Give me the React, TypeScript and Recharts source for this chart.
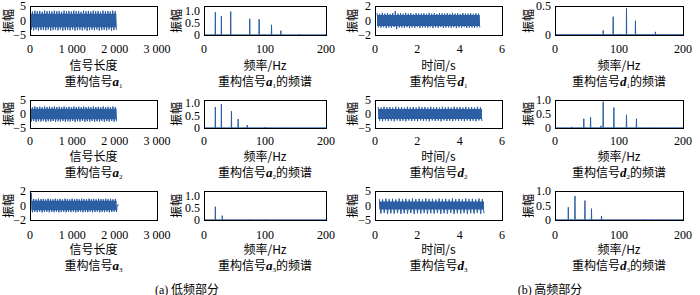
import React from 'react';
import { ComposedChart, Line, Area, XAxis, YAxis } from 'recharts';

// ---------- time-domain signals (tooth tips) ----------
const a1Top = [3.3, 3.1, 3.4, 3.2, 3.3, 3.0, 3.4, 3.2, 3.3, 3.1, 3.4, 3.2, 3.3, 3.0, 3.4, 3.2, 3.3, 3.1, 3.4, 3.2, 3.3, 3.0, 3.4, 3.2, 3.3, 3.1, 3.4, 3.2, 3.3, 3.0, 3.4, 3.2, 3.3, 3.1, 3.4, 3.2];
const a1Bot = [-3.2, -3.4, -3.1, -3.5, -3.3, -3.2, -3.4, -3.1, -3.5, -3.3, -3.2, -3.4, -3.1, -3.5, -3.3, -3.2, -3.4, -3.1, -3.5, -3.3, -3.2, -3.4, -3.1, -3.5, -3.3, -3.2, -3.4, -3.1, -3.5, -3.3, -3.2, -3.4, -3.1, -3.5, -3.3, -3.2];
const a2Top = [2.6, 2.4, 2.7, 2.5, 2.6, 2.4, 2.7, 2.5, 2.6, 2.4, 2.7, 2.5, 2.6, 2.4, 2.7, 2.5, 2.6, 2.4, 2.7, 2.5, 2.6, 2.4, 2.7, 2.5, 2.6, 2.4, 2.7, 2.5, 2.6, 2.4, 2.7, 2.5, 2.6, 2.4, 2.7, 2.5];
const a2Bot = [-2.7, -2.5, -2.8, -2.6, -2.7, -2.5, -2.8, -2.6, -2.7, -2.5, -2.8, -2.6, -2.7, -2.5, -2.8, -2.6, -2.7, -2.5, -2.8, -2.6, -2.7, -2.5, -2.8, -2.6, -2.7, -2.5, -2.8, -2.6, -2.7, -2.5, -2.8, -2.6, -2.7, -2.5, -2.8, -2.6];
const a3Top = [1.75, 0.9, 0.85, 0.95, 0.88, 0.92, 0.85, 0.95, 0.9, 0.86, 0.94, 0.88, 0.92, 0.85, 0.95, 0.9, 0.86, 0.94, 0.88, 0.92, 0.85, 0.95, 0.9, 0.86, 0.94, 0.88, 0.92, 0.85, 0.95, 0.9, 0.86, 0.94, 0.88, 0.92, 0.85, 0.9];
const a3Bot = [-0.95, -0.88, -0.92, -0.85, -0.95, -0.9, -0.86, -0.94, -0.88, -0.92, -0.85, -0.95, -0.9, -0.86, -0.94, -0.88, -0.92, -0.85, -0.95, -0.9, -0.86, -0.94, -0.88, -0.92, -0.85, -0.95, -0.9, -0.86, -0.94, -0.88, -0.92, -0.85, -0.95, -0.9, -0.86, -0.9];
const a3Tail = [[2060, 0.05], [2100, 0.08]];
const d1Top = [1.0, 0.92, 1.05, 0.95, 1.0, 0.9, 1.02, 1.3, 0.95, 1.0, 0.92, 1.05, 0.95, 1.0, 0.9, 1.02, 0.97, 0.95, 1.0, 0.92, 1.05, 0.95, 1.0, 0.9, 1.02, 0.97, 0.95, 1.0, 0.92, 1.05, 0.95, 1.0, 0.9, 1.02, 0.97, 0.95, 1.0, 0.92, 1.0, 0.95];
const d1Bot = [-0.95, -1.0, -0.92, -1.05, -0.95, -1.0, -0.9, -1.2, -0.97, -0.95, -1.0, -0.92, -1.05, -0.95, -1.0, -0.9, -1.02, -0.97, -0.95, -1.0, -0.92, -1.05, -0.95, -1.0, -0.9, -1.02, -0.97, -0.95, -1.0, -0.92, -1.05, -0.95, -1.0, -0.9, -1.02, -0.97, -0.95, -1.0, -0.92, -0.95];
const d2Top = [2.5, 2.3, 2.6, 2.4, 2.5, 2.3, 2.6, 2.4, 2.5, 2.3, 2.6, 2.4, 2.5, 2.3, 2.6, 2.4, 2.5, 2.3, 2.6, 2.4, 2.5, 2.3, 2.6, 2.4, 2.5, 2.3, 2.6, 2.4, 2.5, 2.3, 2.6, 2.4, 2.5, 2.3, 2.6, 2.4];
const d2Bot = [-2.4, -2.6, -2.3, -2.5, -2.4, -2.6, -2.3, -2.5, -2.4, -2.6, -2.3, -2.5, -2.4, -2.6, -2.3, -2.5, -2.4, -2.6, -2.3, -2.5, -2.4, -2.6, -2.3, -2.5, -2.4, -2.6, -2.3, -2.5, -2.4, -2.6, -2.3, -2.5, -2.4, -2.6, -2.3, -2.5];
const d3Top = [2.3, 2.1, 2.4, 2.2, 2.3, 2.1, 2.4, 2.2, 2.3, 2.1, 2.4, 2.2, 2.3, 2.1, 2.4, 2.2, 2.3, 2.1, 2.4, 2.2, 2.3, 2.1, 2.4, 2.2, 2.3, 2.1, 2.4, 2.2, 2.3, 2.1, 2.4, 2.2];
const d3Bot = [-2.8, -2.6, -2.9, -2.7, -2.8, -2.6, -2.9, -2.7, -2.8, -2.6, -2.9, -2.7, -2.8, -2.6, -2.9, -2.7, -2.8, -2.6, -2.9, -2.7, -2.8, -2.6, -2.9, -2.7, -2.8, -2.6, -2.9, -2.7, -2.8, -2.6, -2.9, -2.7];
// dense inner band half-widths (the solid core of each time signal)
const innerA = [2.3, 1.9, 0.65];
const innerD = [0.75, 1.8, 1.4];

// ---------- spectra (peak frequency / amplitude) ----------
const a1F = [18.6, 28.5, 43.8, 60, 75, 90.4, 99, 110.7, 126, 156];
const a1A = [0.94, 0.79, 0.97, 0.02, 0.67, 0.65, 0.03, 0.42, 0.18, 0.04];
const a2F = [18.6, 28.5, 45, 56, 71, 100, 133, 159];
const a2A = [0.82, 0.94, 0.66, 0.35, 0.12, 0.04, 0.02, 0.02];
const a3F = [18.6, 30, 75, 100];
const a3A = [0.55, 0.18, 0.03, 0.03];
const d1F = [75.3, 90.9, 101, 111.7, 125.7, 156.9];
const d1A = [0.08, 0.315, 0.02, 0.46, 0.245, 0.054];
const d2F = [26, 45, 55.6, 71.7, 75.3, 92, 111.7, 127.3, 148];
const d2A = [0.04, 0.33, 0.38, 0.08, 0.94, 0.73, 0.47, 0.33, 0.02];
const d3F = [20.8, 26, 31.2, 46.8, 57, 72.7, 98.7, 137.7, 153, 166];
const d3A = [0.44, 0.03, 0.83, 0.67, 0.39, 0.14, 0.02, 0.03, 0.03, 0.02];

// ---------- axis ticks ----------
const lenTicks = [0, 1000, 2000, 3000];
const timeTicks = [0, 2, 4, 6];
const freqTicks = [0, 100, 200];
const amp5 = [-5, 0, 5];
const amp2 = [-2, 0, 2];
const spec1 = [0, 0.5, 1];
const spec05 = [0, 0.5];

type Pt = { x: number; y: number; band?: [number, number] };

function zigzag(start: number, end: number, top: number[], bot: number[], inner: number, extra: number[][] = []): Pt[] {
  const n = top.length;
  const total = 2 * n - 1;
  const pts: Pt[] = [];
  const band: [number, number] = [-inner, inner];
  for (let i = 0; i < n; i++) {
    pts.push({ x: start + ((end - start) * (2 * i)) / total, y: top[i], band });
    pts.push({ x: start + ((end - start) * (2 * i + 1)) / total, y: bot[i], band });
  }
  extra.forEach(([x, y]) => pts.push({ x, y }));
  return pts;
}

function spectrum(freqs: number[], amps: number[]): Pt[] {
  const floor = 0.006;
  const pts: Pt[] = [{ x: 0, y: floor }, { x: 200, y: floor }];
  freqs.forEach((f, i) => {
    pts.push({ x: f - 0.35, y: floor }, { x: f, y: amps[i] }, { x: f + 0.35, y: floor });
  });
  return pts.sort((a, b) => a.x - b.x);
}

const lenFmt = (v: number) => (v === 0 ? '0' : `${v / 1000} 000`);
const intFmt = (v: number) => (v < 0 ? `−${-v}` : `${v}`);
const specFmt = (v: number) => (v === 0 ? '0' : v.toFixed(1));

const YW = 40, MT = 10, MR = 24, XH = 30;
const BLUE = '#2b5ea3';
const SERIF = '"Liberation Serif", "Times New Roman", serif';
const CJK = '"Noto Sans CJK SC", sans-serif';

interface PanelProps {
  bx: number; by: number; bw: number; bh: number;
  data: Pt[];
  xDomain: [number, number]; xTicks: number[]; xFmt: (v: number) => string;
  yDomain: [number, number]; yTicks: number[]; yFmt: (v: number) => string;
  tm: number; band?: boolean;
}

function Panel(p: PanelProps) {
  const tick = { fill: '#000', fontSize: 12, fontFamily: SERIF };
  return (
    <div style={{ position: 'absolute', left: p.bx - YW, top: p.by - MT }}>
      <ComposedChart width={YW + p.bw + MR} height={MT + p.bh + XH} data={p.data}
        margin={{ top: MT, right: MR, left: 0, bottom: 0 }}>
        <XAxis type="number" dataKey="x" domain={p.xDomain} ticks={p.xTicks} tickFormatter={p.xFmt}
          interval={0} tickSize={0} tickMargin={p.tm} height={XH} axisLine={false} tick={tick} allowDataOverflow />
        <YAxis type="number" domain={p.yDomain} ticks={p.yTicks} tickFormatter={p.yFmt}
          interval={0} tickSize={0} tickMargin={4} width={YW} axisLine={false} tick={tick} allowDataOverflow />
        {p.band && (
          <Area type="linear" dataKey="band" isAnimationActive={false} stroke="none" fill={BLUE} fillOpacity={1} connectNulls={false} />
        )}
        <Line type="linear" dataKey="y" dot={false} isAnimationActive={false} stroke={BLUE} strokeWidth={1} />
      </ComposedChart>
      <div style={{ position: 'absolute', left: YW, top: MT, width: p.bw + 1, height: p.bh + 1, border: '1px solid #000', boxSizing: 'border-box', pointerEvents: 'none' }} />
    </div>
  );
}

function Txt({ x, y, children, rot }: { x: number; y: number; children: React.ReactNode; rot?: boolean }) {
  return (
    <div style={{ position: 'absolute', left: x, top: y, transform: `translate(-50%, -50%)${rot ? ' rotate(-90deg)' : ''}`, whiteSpace: 'nowrap', fontFamily: CJK, fontSize: 12, lineHeight: 1, color: '#000' }}>
      {children}
    </div>
  );
}

function Sym({ c, n }: { c: string; n: number }) {
  return (
    <span style={{ fontFamily: SERIF, fontStyle: 'italic', fontWeight: 'bold', fontSize: 13, lineHeight: 1 }}>
      {c}<sub style={{ fontSize: 7, fontStyle: 'normal', fontWeight: 'normal', verticalAlign: '-2px', lineHeight: 0 }}>{n}</sub>
    </span>
  );
}

const cols = [
  { bx: 30, bw: 127 },
  { bx: 204, bw: 122 },
  { bx: 375, bw: 127 },
  { bx: 555, bw: 128 },
];
const rows = [
  { by: 6, bh: 29, tm: 9, xl: 65, tl: 81 },
  { by: 100, bh: 28, tm: 8, xl: 156, tl: 172 },
  { by: 191, bh: 29, tm: 10, xl: 249, tl: 265 },
];
const ylabX = [8, 176, 352, 528];

export default function App() {
  const timeA = [
    zigzag(0, 2040, a1Top, a1Bot, innerA[0]),
    zigzag(0, 2045, a2Top, a2Bot, innerA[1]),
    zigzag(30, 2045, a3Top, a3Bot, innerA[2], a3Tail),
  ];
  const timeD = [
    zigzag(0.1, 4.95, d1Top, d1Bot, innerD[0]),
    zigzag(0.15, 5.05, d2Top, d2Bot, innerD[1]),
    zigzag(0.2, 5.15, d3Top, d3Bot, innerD[2]),
  ];
  const specA = [spectrum(a1F, a1A), spectrum(a2F, a2A), spectrum(a3F, a3A)];
  const specD = [spectrum(d1F, d1A), spectrum(d2F, d2A), spectrum(d3F, d3A)];
  const yA: [number, number][] = [[-5, 5], [-5, 5], [-2, 2]];
  const yATicks = [amp5, amp5, amp2];
  const yD: [number, number][] = [[-2, 2], [-5, 5], [-5, 5]];
  const yDTicks = [amp2, amp5, amp5];
  const ySA: [number, number][] = [[0, 1.2], [0, 1.1], [0, 1.2]];
  const ySD: [number, number][] = [[0, 0.5], [0, 1.0], [0, 1.0]];
  const ySDTicks = [spec05, spec1, spec1];

  return (
    <div style={{ position: 'absolute', left: 0, top: 0, width: 700, height: 295, background: '#fff', overflow: 'hidden' }}>
      {rows.map((r, i) => (
        <React.Fragment key={i}>
          <Panel bx={cols[0].bx} bw={cols[0].bw} by={r.by} bh={r.bh} data={timeA[i]} xDomain={[0, 3000]} xTicks={lenTicks} xFmt={lenFmt}
            yDomain={yA[i]} yTicks={yATicks[i]} yFmt={intFmt} tm={r.tm} band />
          <Panel bx={cols[1].bx} bw={cols[1].bw} by={r.by} bh={r.bh} data={specA[i]} xDomain={[0, 200]} xTicks={freqTicks} xFmt={intFmt}
            yDomain={ySA[i]} yTicks={spec1} yFmt={specFmt} tm={r.tm} />
          <Panel bx={cols[2].bx} bw={cols[2].bw} by={r.by} bh={r.bh} data={timeD[i]} xDomain={[0, 6]} xTicks={timeTicks} xFmt={intFmt}
            yDomain={yD[i]} yTicks={yDTicks[i]} yFmt={intFmt} tm={r.tm} band />
          <Panel bx={cols[3].bx} bw={cols[3].bw} by={r.by} bh={r.bh} data={specD[i]} xDomain={[0, 200]} xTicks={freqTicks} xFmt={intFmt}
            yDomain={ySD[i]} yTicks={ySDTicks[i]} yFmt={specFmt} tm={r.tm} />
          {ylabX.map((x, j) => (
            <Txt key={j} x={x} y={r.by + r.bh / 2} rot>振幅</Txt>
          ))}
          <Txt x={cols[0].bx + cols[0].bw / 2} y={r.xl}>信号长度</Txt>
          <Txt x={cols[1].bx + cols[1].bw / 2} y={r.xl}>频率/Hz</Txt>
          <Txt x={cols[2].bx + cols[2].bw / 2} y={r.xl}>时间/s</Txt>
          <Txt x={cols[3].bx + cols[3].bw / 2} y={r.xl}>频率/Hz</Txt>
          <Txt x={cols[0].bx + cols[0].bw / 2} y={r.tl}>重构信号<Sym c="a" n={i + 1} /></Txt>
          <Txt x={cols[1].bx + cols[1].bw / 2} y={r.tl}>重构信号<Sym c="a" n={i + 1} />的频谱</Txt>
          <Txt x={cols[2].bx + cols[2].bw / 2} y={r.tl}>重构信号<Sym c="d" n={i + 1} /></Txt>
          <Txt x={cols[3].bx + cols[3].bw / 2} y={r.tl}>重构信号<Sym c="d" n={i + 1} />的频谱</Txt>
        </React.Fragment>
      ))}
      <Txt x={187} y={289}><span style={{ fontFamily: SERIF }}>(a)</span> 低频部分</Txt>
      <Txt x={550} y={289}><span style={{ fontFamily: SERIF }}>(b)</span> 高频部分</Txt>
    </div>
  );
}
